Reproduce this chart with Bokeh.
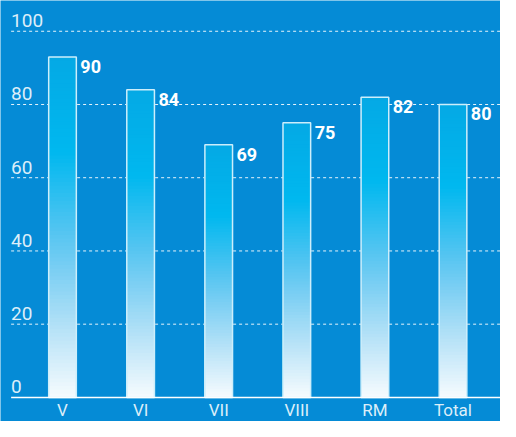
from bokeh.plotting import figure
from bokeh.models import ColumnDataSource, Range1d
from bokeh.core.properties import value
from bokeh.embed import file_html
from bokeh.resources import INLINE

categories = ["V", "VI", "VII", "VIII", "RM", "Total"]
bar_values = [93, 84, 69, 75, 82, 80]
label_values = [90, 84, 69, 75, 82, 80]
y_ticks = [0, 20, 40, 60, 80, 100]

BG = "#058bd6"
FONT = "Roboto"

# gradient stops (fraction from top of each bar, colour)
stops = [(0.0, "#04a9e5"), (0.28, "#00b8ef"), (0.5, "#4fc4f1"),
         (0.62, "#79cef3"), (0.8, "#b6e2f7"), (1.0, "#f6fbfe")]


def hex2rgb(h):
    h = h.lstrip("#")
    return tuple(int(h[i:i + 2], 16) for i in (0, 2, 4))


def interp(f):
    for (f0, c0), (f1, c1) in zip(stops[:-1], stops[1:]):
        if f0 <= f <= f1:
            t = (f - f0) / (f1 - f0) if f1 > f0 else 0
            a, b = hex2rgb(c0), hex2rgb(c1)
            return "#%02x%02x%02x" % tuple(int(round(a[k] + (b[k] - a[k]) * t)) for k in range(3))
    return stops[-1][1]


p = figure(width=500, height=421, output_backend="svg", toolbar_location=None,
           x_range=Range1d(-0.794, 5.608), y_range=Range1d(-6.58, 108.4),
           min_border=0, background_fill_color=BG, border_fill_color=BG,
           outline_line_color=None)
p.axis.visible = False
p.grid.visible = False

x_left = -0.658
x_right = 5.608

# dashed gridlines
grid_src = ColumnDataSource(dict(y=y_ticks[1:]))
p.segment(x0=x_left, x1=x_right, y0="y", y1="y", source=grid_src,
          line_color="white", line_width=1, line_dash="3 3", line_alpha=0.9)

# gradient bars: overlapping slices (each runs down to 0) to avoid seams
N = 90
xs, tops, cols = [], [], []
for i, v in enumerate(bar_values):
    for k in range(N):
        f0 = k / N
        f1 = (k + 1) / N
        xs.append(i)
        tops.append(v * (1 - f0))
        cols.append(interp((f0 + f1) / 2))
p.vbar(x=xs, top=tops, bottom=0, width=0.354, fill_color=cols, line_color=None)

xi = list(range(len(categories)))
# bar outline
p.vbar(x=xi, top=bar_values, bottom=0, width=0.354, fill_alpha=0,
       line_color="#cdeefb", line_width=1.5)

# base axis line
p.segment(x0=[x_left], x1=[x_right], y0=[0], y1=[0], line_color="white", line_width=1.5)

# y tick labels inside plot
p.text(x=[x_left] * len(y_ticks), y=y_ticks, text=[str(t) for t in y_ticks],
       text_font=value(FONT), text_font_size="19px", text_color="#dcEEf9",
       text_align="left", text_baseline="bottom", y_offset=-4)

# category labels
p.text(x=xi, y=[0] * len(xi), text=categories, text_font=value(FONT),
       text_font_size="17px", text_color="#dceef9", text_align="center",
       text_baseline="top", y_offset=3)

# value labels
p.text(x=[i + 0.177 for i in xi], y=bar_values, text=[str(v) for v in label_values],
       text_font=value(FONT), text_font_size="18px", text_font_style="bold",
       text_color="white", text_align="left", text_baseline="top",
       x_offset=4, y_offset=3)

open("out.html", "w").write(file_html(p, INLINE))
